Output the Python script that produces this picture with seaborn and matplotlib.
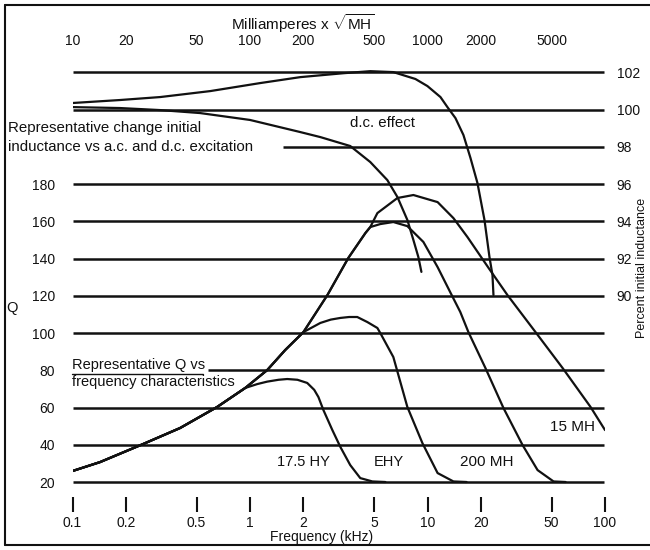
import numpy as np
import pandas as pd
import matplotlib
matplotlib.use("Agg")
import matplotlib.pyplot as plt
import seaborn as sns
from matplotlib.lines import Line2D
from matplotlib.ticker import NullLocator

sns.set_theme(style="white")
plt.rcParams["font.family"] = ["Liberation Sans", "DejaVu Sans"]
plt.rcParams["mathtext.fontset"] = "custom"
plt.rcParams["mathtext.rm"] = "Liberation Sans"

# ---------------- data ----------------
# Q grid levels (left axis) and percent grid levels (right axis)
q_ticks = [20, 40, 60, 80, 100, 120, 140, 160, 180]
pct_ticks = [90, 92, 94, 96, 98, 100, 102]
freq_ticks = [0.1, 0.2, 0.5, 1, 2, 5, 10, 20, 50, 100]
freq_labels = ["0.1", "0.2", "0.5", "1", "2", "5", "10", "20", "50", "100"]
ma_ticks = [10, 20, 50, 100, 200, 500, 1000, 2000, 5000]
ma_labels = ["10", "20", "50", "100", "200", "500", "1000", "2000", "5000"]

# Q grid lines: level, start freq
q_lines = [20, 40, 60, 80, 100, 120, 140, 160, 180]
q_line_start = [0.1, 0.1, 0.1, 0.58, 0.1, 0.1, 0.1, 0.1, 0.1]
pct_lines = [98, 100, 102]
pct_line_start = [154, 10, 10]

# a.c. effect (milliamperes x sqrt(MH), percent)
ac_ma = [10, 18.5, 31.2, 59.7, 114, 192, 336, 476, 642, 855, 999, 1183, 1295,
         1437, 1594, 1746, 1911, 2094, 2234, 2323, 2353]
ac_pct = [100.35, 100.51, 100.67, 100.99, 101.42, 101.74, 101.95, 102.06, 102.01,
          101.64, 101.26, 100.67, 100.13, 99.54, 98.63, 97.40, 96.06, 94.07,
          92.08, 91.11, 90.04]
# d.c. effect
dc_ma = [10, 18.5, 31.2, 52.4, 100, 190, 249, 367, 476, 594, 677, 770, 833, 888, 924]
dc_pct = [100.13, 100.08, 99.97, 99.81, 99.44, 98.80, 98.52, 98.04, 97.18, 96.21,
          95.30, 94.07, 92.99, 92.08, 91.28]

# Q vs frequency curves (kHz, Q)
hy175_f = [0.1, 0.143, 0.25, 0.404, 0.653, 0.94, 1.10, 1.25, 1.45, 1.62, 1.85, 2.10,
           2.30, 2.43, 2.59, 2.91, 3.23, 3.67, 4.18, 4.89, 5.79]
hy175_q = [25.9, 30.7, 40.4, 49.0, 60.3, 70.5, 72.6, 73.9, 74.9, 75.3, 74.9, 73.2,
           69.5, 65.6, 58.7, 47.9, 38.8, 29.1, 22.1, 20.3, 20.0]
ehy_f = [0.1, 0.143, 0.25, 0.404, 0.653, 0.94, 1.25, 1.58, 2.0, 2.49, 2.85, 3.23,
         3.62, 4.02, 4.58, 5.22, 5.42, 6.42, 7.70, 9.36, 11.4, 14.0, 16.6]
ehy_q = [25.9, 30.7, 40.4, 49.0, 60.3, 70.5, 80.1, 90.9, 100.5, 105.4, 107.2, 108.1,
         108.6, 108.6, 105.9, 102.7, 100.0, 87.1, 60.3, 40.9, 24.8, 20.3, 20.0]
mh200_f = [0.1, 0.143, 0.25, 0.404, 0.653, 0.94, 1.25, 1.58, 2.0, 2.73, 3.58, 4.47,
           4.76, 5.42, 6.42, 7.70, 9.48, 11.4, 13.5, 15.3, 17.0, 21.2, 26.8, 34.3,
           41.7, 51.3, 60.0]
mh200_q = [25.9, 30.7, 40.4, 49.0, 60.3, 70.5, 80.1, 90.9, 100.5, 120.4, 140.3, 153.7,
           156.9, 158.5, 159.6, 157.4, 148.9, 135.4, 121.5, 111.3, 100.5, 81.2, 59.7,
           39.9, 26.4, 20.3, 20.0]
mh15_f = [0.1, 0.143, 0.25, 0.404, 0.653, 0.94, 1.25, 1.58, 2.0, 2.73, 3.58, 4.47,
          4.76, 5.22, 6.77, 8.33, 11.4, 14.0, 16.8, 22.1, 28.2, 40.6, 57.7, 82.9, 100]
mh15_q = [25.9, 30.7, 40.4, 49.0, 60.3, 70.5, 80.1, 90.9, 100.5, 120.4, 140.3, 153.7,
          156.9, 164.4, 172.5, 174.1, 170.3, 161.7, 151.5, 134.9, 120.4, 100.5, 81.2,
          60.3, 47.9]

# ---------------- figure ----------------
W, H = 650, 550
fig = plt.figure(figsize=(6.5, 5.5), dpi=100)
fig.patch.set_facecolor("white")


def fx(x):
    return x / W


def fy(y):
    return 1 - y / H


rect = [fx(72.5), fy(497), fx(605) - fx(72.5), fy(60) - fy(497)]
ax = fig.add_axes(rect)
ax.set_facecolor("none")
ax.set_xscale("log")
ax.set_xlim(0.1, 100)
ax.set_ylim(11.95, 246.6)
for s in ax.spines.values():
    s.set_visible(False)

axp = fig.add_axes(rect, frameon=False)
axp.set_xscale("log")
axp.set_xlim(10, 10000)
axp.set_ylim(79.19, 102.66)

lw_grid = 1.8
lw_curve = 1.6
ink = "#111111"

# grid lines
ax.hlines(q_lines, q_line_start, 98.5, color=ink, lw=lw_grid)
axp.hlines(pct_lines, pct_line_start, 9850, color=ink, lw=lw_grid)

# curves
for fr, qq in [(hy175_f, hy175_q), (ehy_f, ehy_q), (mh200_f, mh200_q), (mh15_f, mh15_q)]:
    df = pd.DataFrame({"f": fr, "q": qq})
    sns.lineplot(data=df, x="f", y="q", sort=False, estimator=None, ax=ax,
                 color=ink, lw=lw_curve)
for ma, pc in [(ac_ma, ac_pct), (dc_ma, dc_pct)]:
    df = pd.DataFrame({"m": ma, "p": pc})
    sns.lineplot(data=df, x="m", y="p", sort=False, estimator=None, ax=axp,
                 color=ink, lw=lw_curve)

fs = 10
# bottom axis
ax.set_xticks(freq_ticks)
ax.set_xticklabels(freq_labels, fontsize=fs)
ax.xaxis.set_minor_locator(NullLocator())
ax.tick_params(axis="x", bottom=True, top=False, direction="out", length=10.8,
               width=1.5, color=ink, pad=3, labelcolor=ink)
# left axis
ax.set_yticks(q_ticks)
ax.set_yticklabels([str(v) for v in q_ticks], fontsize=fs)
ax.tick_params(axis="y", left=True, right=False, length=0, pad=12.5, labelcolor=ink)
ax.set_xlabel("")
ax.set_ylabel("")

# top axis (milliamperes)
axp.xaxis.tick_top()
axp.set_xticks(ma_ticks)
axp.set_xticklabels(ma_labels, fontsize=fs)
axp.xaxis.set_minor_locator(NullLocator())
axp.tick_params(axis="x", length=0, pad=8.5, labelcolor=ink)
# right axis (percent)
axp.yaxis.tick_right()
axp.set_yticks(pct_ticks)
axp.set_yticklabels([str(v) for v in pct_ticks], fontsize=fs)
axp.tick_params(axis="y", length=0, pad=8.5, labelcolor=ink)
axp.set_xlabel("")
axp.set_ylabel("")


# texts
def t(x, y, s, ha="center", va="center", size=10.5, **kw):
    fig.text(fx(x), fy(y), s, ha=ha, va=va, fontsize=size, color=ink, **kw)


t(303, 24, r"Milliamperes x $\sqrt{\mathrm{MH}}$", size=11)
t(8, 128, "Representative change initial", ha="left", size=10.8)
t(8, 147, "inductance vs a.c. and d.c. excitation", ha="left", size=10.8)
t(382, 123, "d.c. effect", size=10.8)
t(72, 365, "Representative Q vs", ha="left", size=10.5)
t(72, 382, "frequency characteristics", ha="left", size=10.5)
t(303, 462, "17.5 HY")
t(389, 462, "EHY")
t(487, 462, "200 MH", size=11)
t(572, 427, "15 MH", size=11)
t(12, 308, "Q", size=10.5)
t(642, 268, "Percent initial inductance", rotation=90, size=9)
t(322, 537, "Frequency (kHz)", size=10)

# underline & frame
fig.add_artist(Line2D([fx(72), fx(203)], [fy(373.5), fy(373.5)], color=ink, lw=1.0))
fig.add_artist(Line2D([fx(5), fx(5)], [fy(5), fy(545)], color=ink, lw=1.5))
fig.add_artist(Line2D([fx(5), fx(650)], [fy(5), fy(5)], color=ink, lw=1.5))
fig.add_artist(Line2D([fx(5), fx(650)], [fy(545), fy(545)], color=ink, lw=1.5))

fig.savefig("out.png", dpi=100)
